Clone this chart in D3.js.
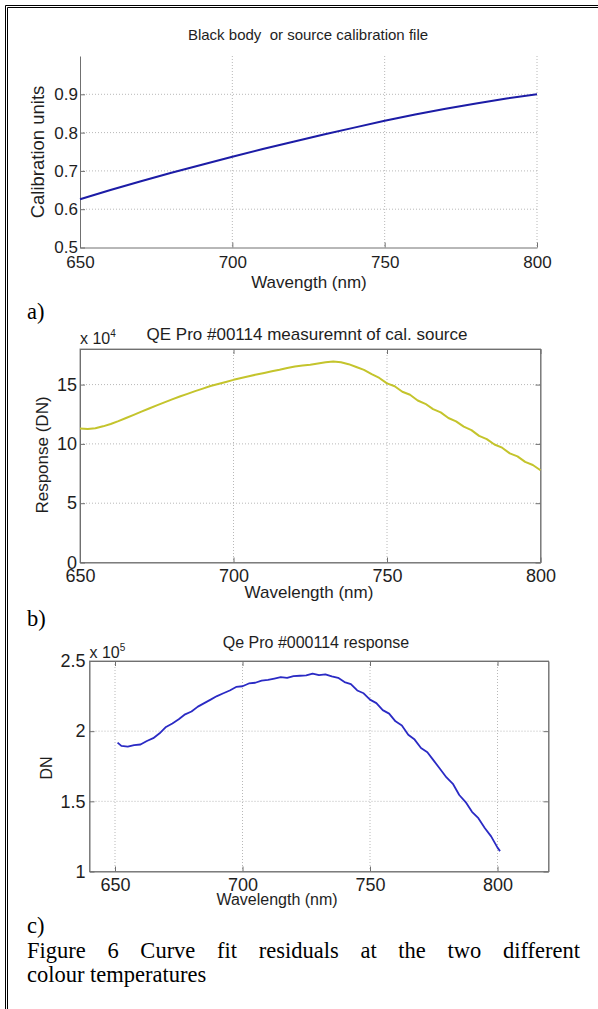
<!DOCTYPE html>
<html>
<head>
<meta charset="utf-8">
<script src="https://cdn.jsdelivr.net/npm/d3@7"></script>
<style>
  body { margin: 0; background: #fff; }
  svg text { font-family: "Liberation Sans", Arial, sans-serif; fill: #1e1e1e; white-space: pre; }
  .grid line { stroke: #b8b8b8; stroke-width: 1; stroke-dasharray: 1,2; }
  .serif { font-family: "Liberation Serif", "Times New Roman", serif !important; fill: #000 !important; }
</style>
</head>
<body>
<div id="fig"></div>
<script>

// ---- panel a) black body calibration file
const calWavelength = [650, 660, 670, 680, 690, 700, 710, 720, 730, 740, 750, 760, 770, 780, 790, 800];
const calUnits = [0.626, 0.650, 0.673, 0.695, 0.716, 0.737, 0.757, 0.776, 0.795, 0.813, 0.831, 0.847, 0.862, 0.876, 0.889, 0.900];

// ---- panel b) QE Pro measurement of cal. source (x 10^4)
const measWavelength = [650, 652.5, 655, 657.5, 660, 662.5, 665, 667.5, 670, 672.5, 675, 677.5, 680, 682.5, 685, 687.5,
  690, 692.5, 695, 697.5, 700, 702.5, 705, 707.5, 710, 712.5, 715, 717.5, 720, 722.5, 725, 727.5, 730, 732.5,
  735, 737.5, 740, 742.5, 745, 747.5, 750, 752.5, 755, 757.5, 760, 762.5, 765, 767.5, 770, 772.5, 775, 777.5,
  780, 782.5, 785, 787.5, 790, 792.5, 795, 797.5, 800];
const measResponse = [11.30, 11.25, 11.32, 11.48, 11.68, 11.92, 12.18, 12.45, 12.72, 12.98, 13.25, 13.50, 13.75, 14.00, 14.22, 14.45,
  14.66, 14.88, 15.05, 15.22, 15.40, 15.55, 15.70, 15.85, 15.98, 16.12, 16.25, 16.40, 16.52, 16.60, 16.68, 16.78, 16.88, 16.95,
  16.88, 16.72, 16.48, 16.24, 15.88, 15.56, 15.10, 14.86, 14.40, 14.14, 13.66, 13.38, 12.93, 12.66, 12.18, 11.90, 11.45, 11.16,
  10.68, 10.40, 9.95, 9.68, 9.20, 8.95, 8.48, 8.22, 7.78];

// ---- panel c) Qe Pro response (x 10^5)
const respWavelength = [651, 652.5, 655, 657.5, 660, 662.5, 665, 667.5, 670, 672.5, 675, 677.5, 680, 682.5, 685, 687.5,
  690, 692.5, 695, 697.5, 700, 702.5, 705, 707.5, 710, 712.5, 715, 717.5, 720, 722.5, 725, 727.5, 730, 732.5,
  735, 737.5, 740, 742.5, 745, 747.5, 750, 752.5, 755, 757.5, 760, 762.5, 765, 767.5, 770, 772.5, 775, 777.5,
  780, 782.5, 785, 787.5, 790, 792.5, 795, 797.5, 800, 801];
const respDN = [1.918, 1.895, 1.890, 1.900, 1.905, 1.930, 1.950, 1.985, 2.030, 2.055, 2.085, 2.120, 2.140, 2.175, 2.200, 2.225,
  2.250, 2.270, 2.290, 2.315, 2.320, 2.340, 2.345, 2.360, 2.365, 2.375, 2.385, 2.380, 2.392, 2.395, 2.398, 2.410, 2.400, 2.405,
  2.390, 2.380, 2.350, 2.335, 2.290, 2.270, 2.225, 2.200, 2.150, 2.125, 2.070, 2.040, 1.975, 1.940, 1.880, 1.850, 1.790, 1.730,
  1.670, 1.625, 1.545, 1.495, 1.425, 1.380, 1.310, 1.250, 1.170, 1.145];

const xTicksAB = [650, 700, 750, 800];
const yTicksA = [0.5, 0.6, 0.7, 0.8, 0.9];
const yTicksB = [0, 5, 10, 15];
const yTicksC = [1, 1.5, 2, 2.5];


class LinePanel {

    constructor(_svg, _xs, _ys, _opts) {
        this.svg = _svg;
        this.data = _xs.map((x, i) => ({ x: x, y: _ys[i] }));
        this.o = _opts;
        this.initVis();
    }

    initVis() {
        let vis = this, o = vis.o;

        vis.x = d3.scaleLinear().domain(o.xDomain).range([o.left, o.right]);
        vis.y = d3.scaleLinear().domain(o.yDomain).range([o.bottom, o.top]);

        vis.g = vis.svg.append("g");

        // dotted grid
        let grid = vis.g.append("g").attr("class", "grid");
        grid.selectAll(".gx").data(o.xGrid).join("line")
            .attr("x1", d => vis.x(d)).attr("x2", d => vis.x(d))
            .attr("y1", o.top).attr("y2", o.bottom);
        grid.selectAll(".gy").data(o.yGrid).join("line")
            .attr("y1", d => vis.y(d)).attr("y2", d => vis.y(d))
            .attr("x1", o.left).attr("x2", o.right);

        // box (MATLAB "box on")
        if (o.box) {
            vis.g.append("rect")
                .attr("x", o.left).attr("y", o.top)
                .attr("width", o.right - o.left).attr("height", o.bottom - o.top)
                .attr("fill", "none").attr("stroke", "#8a8a8a");
            vis.g.append("g")
                .attr("transform", "translate(0," + o.top + ")")
                .call(d3.axisBottom(vis.x).tickValues(o.xTicks).tickSizeInner(5).tickSizeOuter(0).tickFormat(""))
                .call(g => vis.styleAxis(g));
            vis.g.append("g")
                .attr("transform", "translate(" + o.right + ",0)")
                .call(d3.axisLeft(vis.y).tickValues(o.yTicks).tickSizeInner(5).tickSizeOuter(0).tickFormat(""))
                .call(g => vis.styleAxis(g));
        }

        // x and y axes, ticks pointing inward
        vis.g.append("g")
            .attr("transform", "translate(0," + o.bottom + ")")
            .call(d3.axisBottom(vis.x).tickValues(o.xTicks).tickSizeInner(-5).tickSizeOuter(0)
                .tickPadding(o.xPad).tickFormat(d3.format("d")))
            .call(g => vis.styleAxis(g))
            .selectAll("text").style("font-size", o.tickFont + "px");

        vis.g.append("g")
            .attr("transform", "translate(" + o.left + ",0)")
            .call(d3.axisLeft(vis.y).tickValues(o.yTicks).tickSizeInner(-5).tickSizeOuter(0)
                .tickPadding(o.yPad).tickFormat(d => String(d)))
            .call(g => vis.styleAxis(g))
            .selectAll("text").style("font-size", o.tickFont + "px");

        // titles and labels
        vis.g.append("text")
            .attr("x", o.titleX).attr("y", o.titleY)
            .attr("text-anchor", "middle")
            .style("font-size", o.titleFont + "px")
            .text(o.title);

        vis.g.append("text")
            .attr("x", o.xLabelX).attr("y", o.xLabelY)
            .attr("text-anchor", "middle")
            .style("font-size", o.labelFont + "px")
            .text(o.xLabel);

        vis.g.append("text")
            .attr("transform", "translate(" + o.yLabelX + "," + o.yLabelY + ") rotate(-90)")
            .attr("text-anchor", "middle")
            .style("font-size", (o.yLabelFont || o.labelFont) + "px")
            .text(o.yLabel);

        if (o.exponent) {
            let t = vis.g.append("text")
                .attr("x", o.left).attr("y", o.expY)
                .style("font-size", (o.tickFont - 2) + "px")
                .text("x 10");
            t.append("tspan").attr("dy", -7).style("font-size", "10px").text(o.exponent);
        }

        vis.updateVis();
    }

    styleAxis(g) {
        g.select(".domain").attr("stroke", "#707070");
        g.selectAll(".tick line").attr("stroke", "#707070");
        g.selectAll(".tick text").attr("fill", "#1e1e1e");
    }

    updateVis() {
        let vis = this;

        let line = d3.line()
            .x(d => vis.x(d.x))
            .y(d => vis.y(d.y));

        vis.g.append("path")
            .datum(vis.data)
            .attr("fill", "none")
            .attr("stroke", vis.o.color)
            .attr("stroke-width", vis.o.lineWidth)
            .attr("stroke-linejoin", "round")
            .attr("d", line);
    }
}


const W = 598, H = 1009;
const svg = d3.select("#fig").append("svg")
    .attr("width", W).attr("height", H);

// page frame (double rule on top and left)
[5.5, 7.5].forEach(p => {
    svg.append("line").attr("x1", p).attr("x2", p).attr("y1", p).attr("y2", H).attr("stroke", "#000");
    svg.append("line").attr("x1", p).attr("x2", W).attr("y1", p).attr("y2", p).attr("stroke", "#000");
});

new LinePanel(svg, calWavelength, calUnits, {
    xDomain: [650, 800], yDomain: [0.5, 1.0],
    left: 80, right: 537, top: 56, bottom: 247.5,
    xTicks: xTicksAB, yTicks: yTicksA,
    xGrid: [700, 750, 800], yGrid: [0.6, 0.7, 0.8, 0.9],
    box: false, xPad: 8, yPad: 2, tickFont: 17,
    title: "Black body  or source calibration file", titleX: 308, titleY: 40, titleFont: 15,
    xLabel: "Wavength (nm)", xLabelX: 309, xLabelY: 288, labelFont: 17,
    yLabel: "Calibration units", yLabelX: 44, yLabelY: 152, yLabelFont: 18.5,
    color: "#1c1ca6", lineWidth: 2
});

new LinePanel(svg, measWavelength, measResponse, {
    xDomain: [650, 800], yDomain: [0, 18],
    left: 80, right: 540.5, top: 349, bottom: 562.5,
    xTicks: xTicksAB, yTicks: yTicksB,
    xGrid: [700, 750], yGrid: [5, 10, 15],
    box: true, xPad: 7, yPad: 3, tickFont: 18,
    title: "QE Pro #00114 measuremnt of cal. source", titleX: 307, titleY: 340, titleFont: 17,
    xLabel: "Wavelength (nm)", xLabelX: 309, xLabelY: 598, labelFont: 17,
    yLabel: "Response (DN)", yLabelX: 48, yLabelY: 455,
    exponent: "4", expY: 344,
    color: "#c4c42c", lineWidth: 2
});

new LinePanel(svg, respWavelength, respDN, {
    xDomain: [640, 820], yDomain: [1, 2.5],
    left: 89.5, right: 548.5, top: 661, bottom: 871.5,
    xTicks: xTicksAB, yTicks: yTicksC,
    xGrid: [650, 700, 750, 800], yGrid: [1.5, 2],
    box: true, xPad: 7, yPad: 4, tickFont: 18,
    title: "Qe Pro #000114 response", titleX: 316, titleY: 648, titleFont: 16,
    xLabel: "Wavelength (nm)", xLabelX: 277, xLabelY: 905, labelFont: 16,
    yLabel: "DN", yLabelX: 52, yLabelY: 768,
    exponent: "5", expY: 658,
    color: "#2a2ac4", lineWidth: 1.8
});

// sub-figure letters and caption (document text, Times)
const capFont = 22.5;
[["a)", 319], ["b)", 626], ["c)", 933]].forEach(([t, y]) => {
    svg.append("text").attr("class", "serif").attr("x", 27).attr("y", y)
        .style("font-size", capFont + "px").text(t);
});

const cap1 = svg.append("text").attr("class", "serif").attr("x", 27).attr("y", 958)
    .style("font-size", capFont + "px")
    .style("white-space", "normal")
    .text("Figure 6 Curve fit residuals at the two different");
// justify the first caption line to the right margin
const natural = cap1.node().getComputedTextLength();
const gaps = cap1.text().split(" ").length - 1;
cap1.style("word-spacing", ((580 - 27 - natural) / gaps) + "px");

svg.append("text").attr("class", "serif").attr("x", 27).attr("y", 982)
    .style("font-size", capFont + "px")
    .text("colour temperatures");

</script>
</body>
</html>
